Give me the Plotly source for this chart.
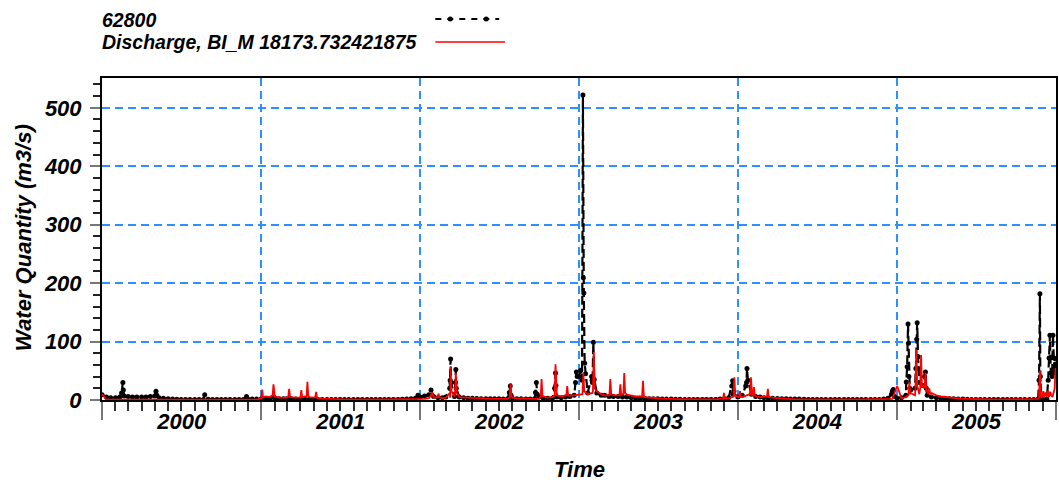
import plotly.graph_objects as go
import pandas as pd

# ---------------- data ----------------
years = [2000, 2001, 2002, 2003, 2004, 2005]
base_days = [1, 11, 21]  # values below are on the 1st, 11th and 21st of each month

# Observed station 62800 (black dashed with dots)
obs_base_2000 = [9, 5, 4, 4, 5, 7, 6, 5, 5, 5, 5, 6, 7, 4, 3, 2, 1.5, 1.2,
                 1, 1, 1, 1, 1, 1, 1.2, 1, 1, 1, 1, 1, 1, 1, 1, 1.5, 1.5, 1.5]
obs_base_2001 = [2, 2, 3, 3, 2, 2, 2, 1.5, 1.5, 1.5, 1.5, 1.2, 1, 1, 1, 1, 1, 1,
                 1, 1, 1, 1, 1, 1, 1, 1, 1, 1, 1, 1, 1, 1, 1.2, 1.5, 2, 3]
obs_base_2002 = [5, 7, 9, 6, 4, 4, 5, 8, 6, 5, 4, 3, 3, 2.5, 2, 2, 2, 2,
                 2, 1.5, 2, 3, 2, 2, 1.5, 1.5, 2, 5, 3, 3, 3, 5, 4, 5, 6, 8]
obs_base_2003 = [40, 209, 12, 30, 12, 8, 8, 6, 6, 6, 5, 5, 4, 3, 3, 2.5, 2, 2,
                 2, 1.5, 1.5, 1.5, 1.2, 1.2, 1, 1, 1, 1, 1, 1, 1, 1, 1.5, 2, 4, 10]
obs_base_2004 = [5, 8, 30, 10, 6, 5, 4, 3, 3, 2.5, 2, 2, 1.5, 1.5, 1.5, 1.2, 1, 1,
                 1, 1, 1, 1, 1, 1, 1, 1, 1, 1, 1, 1, 1, 1, 1, 1.5, 3, 15]
obs_base_2005 = [3, 4, 8, 17, 20, 30, 25, 8, 5, 4, 3, 3, 2, 2, 1.5, 1.5, 1.2, 1,
                 1, 1, 1, 1, 1, 1, 1, 1, 1, 1, 1, 1, 1, 1, 1.5, 1.5, 1.5, 46]

obs_event_dates = [
    "2000-02-15", "2000-02-18", "2000-02-19", "2000-05-04", "2000-05-06",
    "2000-08-24", "2000-11-28",
    "2001-01-29", "2001-12-27",
    "2002-01-26", "2002-03-10", "2002-03-11", "2002-03-12", "2002-03-13",
    "2002-03-23", "2002-03-24", "2002-03-25", "2002-07-25", "2002-07-27",
    "2002-07-29", "2002-09-23", "2002-09-25", "2002-09-27", "2002-11-06",
    "2002-11-08", "2002-11-09", "2002-12-24", "2002-12-26", "2002-12-28",
    "2003-01-05", "2003-01-08", "2003-01-10", "2003-01-12", "2003-01-14",
    "2003-01-16", "2003-01-30", "2003-02-03", "2003-02-05", "2003-12-18",
    "2003-12-20", "2003-12-23",
    "2004-01-19", "2004-01-22", "2004-01-24", "2004-12-19", "2004-12-23",
    "2004-12-26",
    "2005-01-22", "2005-01-24", "2005-01-26", "2005-01-27", "2005-01-28",
    "2005-01-30", "2005-02-13", "2005-02-15", "2005-02-16", "2005-02-18",
    "2005-02-19", "2005-03-05", "2005-03-07", "2005-03-09", "2005-11-23",
    "2005-11-25", "2005-11-26", "2005-11-28", "2005-12-14", "2005-12-16",
    "2005-12-18", "2005-12-20", "2005-12-23", "2005-12-25", "2005-12-27",
    "2005-12-29", "2005-12-31",
]
obs_event_values = [
    12, 30, 17, 15, 8,
    9, 6,
    5, 8,
    17, 20, 34, 70, 30,
    30, 52, 20, 13, 24,
    8, 13, 30, 10, 20,
    46, 25, 30, 48, 40,
    51, 34, 522, 183, 63,
    45, 40, 99, 35, 24,
    33, 15,
    24, 54, 34, 10, 18,
    6,
    31, 57, 130, 97, 40,
    20, 54, 104, 132, 74,
    54, 40, 48, 20, 34,
    182, 40, 5, 34, 72,
    111, 46, 40, 111, 72,
    46, 70,
]

# Simulated "Discharge, BI_M 18173.732421875" (red line)
sim_base_2000 = [10, 0.5, 0.5, 0.5, 0.5, 0.5, 0.5, 0.5, 0.5, 0.5, 0.5, 0.5,
                 0.5, 0.5, 0.5, 0.5, 0.5, 0.5, 0.5, 0.5, 0.5, 0.5, 0.5, 0.5,
                 0.5, 0.5, 0.5, 0.5, 0.5, 0.5, 0.5, 0.5, 0.5, 0.5, 0.5, 0.5]
sim_base_2001 = [3, 6, 5, 6, 4, 4, 4, 5, 4, 4, 6, 5, 4, 3, 2.5, 2, 1.8, 1.5,
                 1.3, 1.2, 1.2, 1, 1, 1, 1, 1, 1, 1, 1, 1, 1, 1, 1, 1, 1, 1]
sim_base_2002 = [1.5, 2, 3, 4, 4, 3, 4, 4, 6, 5, 4, 4, 3.5, 3, 3, 2.5, 2.5, 2,
                 2, 2, 2, 4, 3, 2.5, 2, 2, 2, 2, 6, 4, 5, 8, 6, 8, 7, 8]
sim_base_2003 = [8, 46, 10, 12, 15, 10, 8, 8, 8, 8, 10, 9, 7, 6, 6, 5, 4, 3,
                 3, 2.5, 2, 2, 1.8, 1.6, 1.5, 1.4, 1.3, 1.2, 1.2, 1.2, 1.2, 1.2, 2, 3, 3, 6]
sim_base_2004 = [6, 5, 8, 15, 6, 5, 5, 6, 4, 3, 2.5, 2, 1.5, 1.3, 1.2, 1, 1, 1,
                 1, 1, 1, 1, 1, 1, 1, 1, 1, 1, 1, 1, 1, 1, 1, 1, 1, 2]
sim_base_2005 = [24, 3, 5, 12, 8, 10, 25, 15, 12, 8, 6, 5, 4, 3, 2.5, 2, 1.8, 1.5,
                 1.3, 1.2, 1.2, 1, 1, 1, 1, 1, 1, 1, 1, 1, 1, 1, 2, 10, 6, 8]

sim_event_dates = [
    "2001-01-03", "2001-01-05", "2001-01-27", "2001-01-29", "2001-01-31",
    "2001-03-04", "2001-03-06", "2001-03-08", "2001-04-03", "2001-04-05",
    "2001-04-15", "2001-04-17", "2001-04-19", "2001-05-05", "2001-05-07",
    "2001-05-09",
    "2002-01-26", "2002-01-28", "2002-01-30", "2002-02-10", "2002-02-12",
    "2002-02-14", "2002-03-10", "2002-03-12", "2002-03-14", "2002-03-22",
    "2002-03-24", "2002-03-26", "2002-07-26", "2002-07-28", "2002-07-30",
    "2002-10-05", "2002-10-07", "2002-10-09", "2002-11-06", "2002-11-08",
    "2002-11-10", "2002-12-03", "2002-12-05", "2002-12-07",
    "2003-01-09", "2003-01-13", "2003-02-02", "2003-02-04", "2003-02-06",
    "2003-03-12", "2003-03-14", "2003-03-16", "2003-04-04", "2003-04-06",
    "2003-04-08", "2003-04-13", "2003-04-15", "2003-04-17", "2003-05-26",
    "2003-05-28", "2003-05-30", "2003-11-28", "2003-11-30", "2003-12-02",
    "2003-12-22", "2003-12-24", "2003-12-26",
    "2004-01-04", "2004-01-06", "2004-01-08", "2004-01-29", "2004-01-31",
    "2004-02-03", "2004-02-05", "2004-02-07", "2004-02-09", "2004-03-08",
    "2004-03-10", "2004-03-12",
    "2005-01-27", "2005-01-29", "2005-01-31", "2005-02-12", "2005-02-14",
    "2005-02-16", "2005-02-23", "2005-02-25", "2005-02-27", "2005-03-05",
    "2005-03-07", "2005-03-09", "2005-03-14", "2005-03-16", "2005-03-18",
    "2005-11-23", "2005-11-25", "2005-11-27", "2005-11-29", "2005-12-03",
    "2005-12-05", "2005-12-08", "2005-12-14", "2005-12-16", "2005-12-19",
    "2005-12-24", "2005-12-29", "2005-12-31",
]
sim_event_values = [
    18, 5, 8, 27, 8,
    6, 19, 6, 17, 5,
    6, 31, 8, 5, 14,
    4,
    8, 13, 5, 5, 11,
    5, 12, 57, 15, 12,
    46, 12, 5, 29, 6,
    6, 36, 8, 8, 61,
    15, 8, 24, 8,
    10, 15, 15, 82, 20,
    10, 36, 10, 8, 27,
    9, 10, 46, 12, 6,
    33, 7, 2, 12, 3,
    6, 39, 8,
    4, 15, 5, 10, 39,
    8, 8, 22, 8, 6,
    19, 5,
    8, 31, 10, 20, 87,
    25, 20, 77, 22, 20,
    47, 15, 10, 20, 10,
    5, 50, 8, 3, 15,
    4, 13, 16, 5, 14,
    5, 20, 55,
]

y_tick_values = [0, 100, 200, 300, 400, 500]
legend_labels = ["62800", "Discharge, BI_M 18173.732421875"]


# ---------------- assemble series ----------------
def build(base_lists, ev_dates, ev_values):
    dates, vals = [], []
    for yr, lst in zip(years, base_lists):
        assert len(lst) == 36
        i = 0
        for m in range(1, 13):
            for d in base_days:
                dates.append(pd.Timestamp(yr, m, d))
                vals.append(lst[i])
                i += 1
    b = pd.DataFrame({"date": dates, "v": vals, "k": 0})
    e = pd.DataFrame({"date": pd.to_datetime(ev_dates), "v": ev_values, "k": 1})
    df = pd.concat([b, e]).sort_values(["date", "k"])
    df = df.drop_duplicates("date", keep="last")
    return df


obs = build([obs_base_2000, obs_base_2001, obs_base_2002, obs_base_2003,
             obs_base_2004, obs_base_2005], obs_event_dates, obs_event_values)
sim = build([sim_base_2000, sim_base_2001, sim_base_2002, sim_base_2003,
             sim_base_2004, sim_base_2005], sim_event_dates, sim_event_values)

FONT = "Liberation Sans, Arial, sans-serif"
GRID = "#2E8FFF"

fig = go.Figure()
fig.add_trace(go.Scatter(
    x=obs["date"], y=obs["v"], mode="lines+markers", name=legend_labels[0],
    line=dict(color="black", width=2.2, dash="9px,4px"),
    marker=dict(color="black", size=5), showlegend=False))
fig.add_trace(go.Scatter(
    x=sim["date"], y=sim["v"], mode="lines", name=legend_labels[1],
    line=dict(color="#FF0000", width=1.8), showlegend=False))

fig.update_layout(
    width=1059, height=490,
    margin=dict(l=102, r=1, t=78, b=90),
    paper_bgcolor="white", plot_bgcolor="white",
    font=dict(family=FONT, color="black"),
    showlegend=False,
)

fig.update_xaxes(
    type="date", range=["2000-01-01", "2006-01-01"],
    tick0="2000-01-01", dtick="M12", tickformat="%Y", ticklabelmode="period",
    ticks="outside", ticklen=18, tickwidth=2, tickcolor="#777777",
    ticklabelstandoff=-17,
    tickfont=dict(family=FONT, size=22, color="black", weight="bold", style="italic"),
    minor=dict(dtick="M1", ticks="outside", ticklen=9, tickwidth=1.5,
               tickcolor="#333333", showgrid=False),
    showgrid=True, gridcolor=GRID, gridwidth=1.5, griddash="8px,5px",
    showline=True, linecolor="black", linewidth=2, mirror=True,
    zeroline=False,
)
fig.update_yaxes(
    range=[0, 551], tickvals=y_tick_values,
    ticks="outside", ticklen=10, tickwidth=2, tickcolor="#777777",
    ticklabelstandoff=4,
    tickfont=dict(family=FONT, size=22, color="black", weight="bold", style="italic"),
    minor=dict(dtick=20, ticks="outside", ticklen=7, tickwidth=1.5,
               tickcolor="#222222", showgrid=False),
    showgrid=True, gridcolor=GRID, gridwidth=1.5, griddash="8px,5px",
    showline=True, linecolor="black", linewidth=2, mirror=True,
    zeroline=False,
)

title_font = dict(family=FONT, size=22, color="black", weight="bold", style="italic")
leg_font = dict(family=FONT, size=19.5, color="black", weight="bold", style="italic")

fig.add_annotation(text="Time", xref="paper", yref="paper", x=0.5, y=-0.217,
                   xanchor="center", yanchor="middle", showarrow=False, font=title_font)
fig.add_annotation(text="Water Quantity (m3/s)", xref="paper", yref="paper",
                   x=-0.0826, y=0.503, textangle=-90, xanchor="center",
                   yanchor="middle", showarrow=False, font=title_font)

# legend (text left, sample right)
fig.add_annotation(text=legend_labels[0], xref="paper", yref="paper",
                   x=-0.002, y=1.180, xanchor="left", yanchor="middle",
                   showarrow=False, font=leg_font)
fig.add_annotation(text=legend_labels[1], xref="paper", yref="paper",
                   x=-0.002, y=1.112, xanchor="left", yanchor="middle",
                   showarrow=False, font=leg_font)


def px_x(p):
    return (p - 102) / 956.0


def px_y(p):
    return (400 - p) / 322.0


fig.add_shape(type="line", xref="paper", yref="paper",
              x0=px_x(436), x1=px_x(500), y0=px_y(19), y1=px_y(19),
              line=dict(color="black", width=2, dash="6px,6px"))
for cx in (451, 487):
    fig.add_shape(type="circle", xref="paper", yref="paper",
                  xsizemode="pixel", ysizemode="pixel",
                  xanchor=px_x(cx), yanchor=px_y(19),
                  x0=-2.5, x1=2.5, y0=-2.5, y1=2.5,
                  fillcolor="black", line=dict(color="black", width=0))
fig.add_shape(type="line", xref="paper", yref="paper",
              x0=px_x(436), x1=px_x(506), y0=px_y(42), y1=px_y(42),
              line=dict(color="#FF0000", width=1.6))

fig.write_html("out.html")
